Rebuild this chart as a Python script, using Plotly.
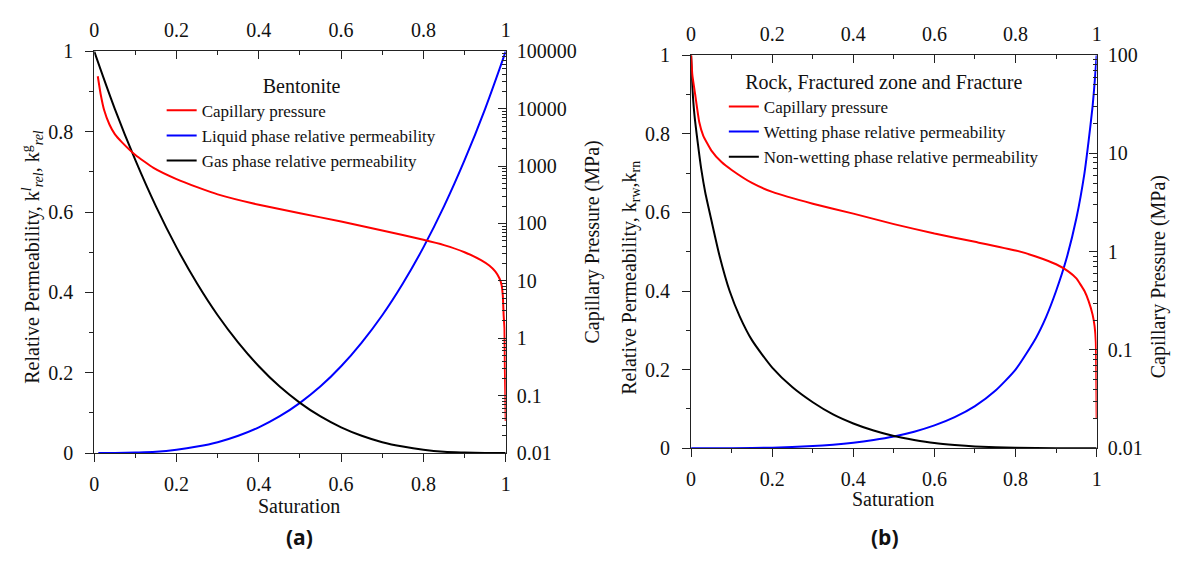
import plotly.graph_objects as go

# ---------------- Data: panel (a) Bentonite ----------------
sat_a_pc = [0.0086, 0.0155, 0.024, 0.037, 0.05, 0.067, 0.1, 0.144, 0.2, 0.25, 0.3, 0.4, 0.5, 0.6, 0.7, 0.8, 0.85,
            0.9, 0.94, 0.96, 0.975, 0.985, 0.99, 0.993, 0.995, 0.997, 0.998, 1.0]
pc_a = [36800, 18100, 9500, 5320, 3610, 2620, 1563, 933, 594, 430, 322, 212, 151, 108, 75.5, 52, 42,
        31.6, 23, 18.5, 14.5, 11, 8.5, 5.5, 2.5, 1.5, 0.3, 0.036]

sat_a = [0.0, 0.05, 0.1, 0.15, 0.2, 0.25, 0.3, 0.35, 0.4, 0.45, 0.5, 0.55, 0.6, 0.65, 0.7, 0.75, 0.8, 0.85, 0.9, 0.95, 1.0]
sat_a_liq = [0.01, 0.05, 0.1, 0.15, 0.2, 0.25, 0.3, 0.35, 0.4, 0.45, 0.5, 0.55, 0.6, 0.65, 0.7, 0.75, 0.8, 0.85, 0.9, 0.95, 1.0]
kr_liq_a = [0.0, 0.0001, 0.001, 0.003, 0.008, 0.016, 0.027, 0.043, 0.064, 0.091, 0.125, 0.166, 0.216, 0.275, 0.343, 0.422, 0.512, 0.614, 0.729, 0.857, 1.0]
kr_gas_a = [1.0, 0.857, 0.729, 0.614, 0.512, 0.422, 0.343, 0.275, 0.216, 0.166, 0.125, 0.091, 0.064, 0.043, 0.027, 0.016, 0.008, 0.003, 0.001, 0.0001, 0.0]

# ---------------- Data: panel (b) Rock, fractured zone, fracture ----------------
sat_b_pc = [0.0, 0.003, 0.01, 0.02, 0.03, 0.05, 0.075, 0.1, 0.15, 0.2, 0.3, 0.4, 0.5, 0.6, 0.7, 0.8, 0.85,
            0.9, 0.93, 0.95, 0.97, 0.98, 0.99, 0.995, 0.998, 1.0]
pc_b = [100, 63.1, 39.8, 20.9, 15.1, 10.7, 8.17, 6.79, 5.01, 4.06, 3.08, 2.44, 1.91, 1.53, 1.26, 1.03, 0.895,
        0.745, 0.631, 0.535, 0.398, 0.316, 0.229, 0.174, 0.12, 0.02]

sat_b_w = [0.0, 0.1, 0.2, 0.3, 0.35, 0.4, 0.45, 0.5, 0.55, 0.6, 0.65, 0.7, 0.75, 0.8, 0.85, 0.875, 0.9, 0.925,
           0.95, 0.97, 0.98, 0.99, 0.995, 1.0]
kr_w_b = [0.0, 0.0002, 0.0015, 0.0055, 0.009, 0.014, 0.021, 0.03, 0.042, 0.058, 0.079, 0.107, 0.146, 0.2, 0.28,
          0.333, 0.4, 0.48, 0.585, 0.7, 0.78, 0.87, 0.93, 1.0]

sat_b_nw = [0.0, 0.003, 0.008, 0.016, 0.025, 0.035, 0.05, 0.07, 0.095, 0.12, 0.15, 0.2, 0.25, 0.3, 0.35, 0.4,
            0.45, 0.5, 0.55, 0.6, 0.65, 0.7, 0.8, 0.9, 1.0]
kr_nw_b = [1.0, 0.92, 0.85, 0.78, 0.71, 0.65, 0.58, 0.49, 0.4, 0.335, 0.275, 0.205, 0.155, 0.117, 0.086, 0.063,
           0.045, 0.031, 0.021, 0.013, 0.008, 0.0045, 0.001, 0.0001, 0.0]

lin_ticks = [0, 0.2, 0.4, 0.6, 0.8, 1]
lin_labels = ["0", "0.2", "0.4", "0.6", "0.8", "1"]
log_ticks_a = [0.01, 0.1, 1, 10, 100, 1000, 10000, 100000]
log_labels_a = ["0.01", "0.1", "1", "10", "100", "1000", "10000", "100000"]
log_ticks_b = [0.01, 0.1, 1, 10, 100]
log_labels_b = ["0.01", "0.1", "1", "10", "100"]

RED = "#ff0000"
BLUE = "#0000ff"
BLACK = "#000000"
SERIF = "Liberation Serif, Times New Roman, DejaVu Serif, serif"
TICKFONT = dict(family=SERIF, size=20, color="#111")

fig = go.Figure()

# panel a
fig.add_trace(go.Scatter(x=sat_a_pc, y=pc_a, xaxis="x", yaxis="y2", mode="lines",
                         line=dict(color=RED, width=2, shape="spline", smoothing=0.4),
                         name="Capillary pressure", legend="legend"))
fig.add_trace(go.Scatter(x=sat_a_liq, y=kr_liq_a, xaxis="x", yaxis="y", mode="lines",
                         line=dict(color=BLUE, width=2, shape="spline"),
                         name="Liquid phase relative permeability", legend="legend"))
fig.add_trace(go.Scatter(x=sat_a, y=kr_gas_a, xaxis="x", yaxis="y", mode="lines",
                         line=dict(color=BLACK, width=2, shape="spline"),
                         name="Gas phase relative permeability", legend="legend"))
fig.add_trace(go.Scatter(x=[], y=[], xaxis="x2", yaxis="y", showlegend=False))

# panel b
fig.add_trace(go.Scatter(x=sat_b_pc, y=pc_b, xaxis="x3", yaxis="y4", mode="lines",
                         line=dict(color=RED, width=2, shape="spline", smoothing=0.4),
                         name="Capillary pressure", legend="legend2"))
fig.add_trace(go.Scatter(x=sat_b_w, y=kr_w_b, xaxis="x3", yaxis="y3", mode="lines",
                         line=dict(color=BLUE, width=2, shape="spline", smoothing=0.6),
                         name="Wetting phase relative permeability", legend="legend2"))
fig.add_trace(go.Scatter(x=sat_b_nw, y=kr_nw_b, xaxis="x3", yaxis="y3", mode="lines",
                         line=dict(color=BLACK, width=2, shape="spline", smoothing=0.6),
                         name="Non-wetting phase relative permeability", legend="legend2"))
fig.add_trace(go.Scatter(x=[], y=[], xaxis="x4", yaxis="y3", showlegend=False))

W, H = 1177, 563


def px_x(p):
    return p / W


def px_y(p):
    return 1 - p / H


axis_common = dict(showgrid=False, zeroline=False, showline=True, linecolor="#222", linewidth=1,
                   tickcolor="#222", tickfont=TICKFONT, fixedrange=True)


def lin_axis(**kw):
    d = dict(axis_common)
    d.update(range=[0, 1], tickmode="array", tickvals=lin_ticks, ticktext=lin_labels)
    d.update(kw)
    return d


def minor_lin(ticks):
    return dict(tickmode="array", tickvals=[0.1, 0.3, 0.5, 0.7, 0.9], ticks=ticks, ticklen=4, tickcolor="#222")


def minor_log(lo, hi, ticks):
    vals = []
    for e in range(lo, hi):
        for m in range(2, 10):
            vals.append(m * 10 ** e)
    return dict(tickmode="array", tickvals=vals, ticks=ticks, ticklen=4, tickcolor="#222")


dom_ax = [px_x(90), px_x(505)]
dom_ay = [px_y(460), px_y(42)]
dom_bx = [px_x(692), px_x(1101)]
dom_by = [px_y(455), px_y(46)]

fig.update_layout(
    width=W, height=H,
    margin=dict(l=0, r=0, t=0, b=0),
    paper_bgcolor="white", plot_bgcolor="white",
    font=dict(family=SERIF, size=17, color="#111"),
    xaxis=lin_axis(domain=dom_ax, anchor="y", side="bottom", ticks="outside", ticklen=8,
                   minor=minor_lin("outside"), ticklabelstandoff=5),
    xaxis2=lin_axis(overlaying="x", anchor="y", side="top", ticks="inside", ticklen=8,
                    minor=minor_lin("inside"), ticklabelstandoff=5),
    yaxis=lin_axis(domain=dom_ay, anchor="x", side="left", ticks="outside", ticklen=8,
                   minor=minor_lin("outside"), ticklabelstandoff=8),
    yaxis2=dict(axis_common, type="log", range=[-2, 5], overlaying="y", anchor="x", side="right",
                tickmode="array", tickvals=log_ticks_a, ticktext=log_labels_a,
                ticks="inside", ticklen=8, minor=minor_log(-2, 5, "inside"), ticklabelstandoff=6),
    xaxis3=lin_axis(domain=dom_bx, anchor="y3", side="bottom", ticks="outside", ticklen=8,
                    minor=minor_lin("outside"), ticklabelstandoff=5),
    xaxis4=lin_axis(overlaying="x3", anchor="y3", side="top", ticks="inside", ticklen=8,
                    minor=minor_lin("inside"), ticklabelstandoff=5),
    yaxis3=lin_axis(domain=dom_by, anchor="x3", side="left", ticks="outside", ticklen=8,
                    minor=minor_lin("outside"), ticklabelstandoff=8),
    yaxis4=dict(axis_common, type="log", range=[-2, 2], overlaying="y3", anchor="x3", side="right",
                tickmode="array", tickvals=log_ticks_b, ticktext=log_labels_b,
                ticks="inside", ticklen=8, minor=minor_log(-2, 2, "inside"), ticklabelstandoff=6),
    legend=dict(x=px_x(158), y=px_y(58), xanchor="left", yanchor="top",
                bgcolor="rgba(0,0,0,0)", font=dict(family=SERIF, size=17, color="#111"),
                title=dict(text="Bentonite", side="top center", font=dict(family=SERIF, size=20, color="#111")),
                tracegroupgap=0, itemwidth=30),
    legend2=dict(x=px_x(725), y=px_y(54), xanchor="left", yanchor="top",
                 bgcolor="rgba(0,0,0,0)", font=dict(family=SERIF, size=17, color="#111"),
                 title=dict(text="Rock, Fractured zone and Fracture", side="top center",
                            font=dict(family=SERIF, size=20, color="#111")),
                 tracegroupgap=0, itemwidth=30),
    showlegend=True,
)

ann_font = dict(family=SERIF, size=20, color="#111")
annotations = [
    dict(text="Saturation", x=px_x(297), y=px_y(515), xref="paper", yref="paper",
         showarrow=False, font=ann_font, xanchor="center", yanchor="middle"),
    dict(text="Saturation", x=px_x(896), y=px_y(508), xref="paper", yref="paper",
         showarrow=False, font=ann_font, xanchor="center", yanchor="middle"),
    dict(text="<b>(a)</b>", x=px_x(297), y=px_y(547), xref="paper", yref="paper",
         showarrow=False, font=dict(family="Open Sans", size=21, color="#111"),
         xanchor="center", yanchor="middle"),
    dict(text="<b>(b)</b>", x=px_x(888), y=px_y(547), xref="paper", yref="paper",
         showarrow=False, font=dict(family="Open Sans", size=21, color="#111"),
         xanchor="center", yanchor="middle"),
    dict(text="Relative Permeability, k<sup><i>l</i></sup><sub><i>rel</i></sub>, k<sup>g</sup><sub><i>rel</i></sub>",
         x=px_x(28), y=px_y(256), xref="paper", yref="paper", textangle=-90,
         showarrow=False, font=ann_font, xanchor="center", yanchor="middle"),
    dict(text="Capillary Pressure (MPa)", x=px_x(593), y=px_y(240), xref="paper", yref="paper",
         textangle=-90, showarrow=False, font=ann_font, xanchor="center", yanchor="middle"),
    dict(text="Relative Permeability, k<sub>rw</sub>,k<sub>rn</sub>", x=px_x(630), y=px_y(278),
         xref="paper", yref="paper", textangle=-90, showarrow=False, font=ann_font,
         xanchor="center", yanchor="middle"),
    dict(text="Capillary Pressure (MPa)", x=px_x(1163), y=px_y(277), xref="paper", yref="paper",
         textangle=-90, showarrow=False, font=ann_font, xanchor="center", yanchor="middle"),
]
fig.update_layout(annotations=annotations)

fig.write_html("out.html")
